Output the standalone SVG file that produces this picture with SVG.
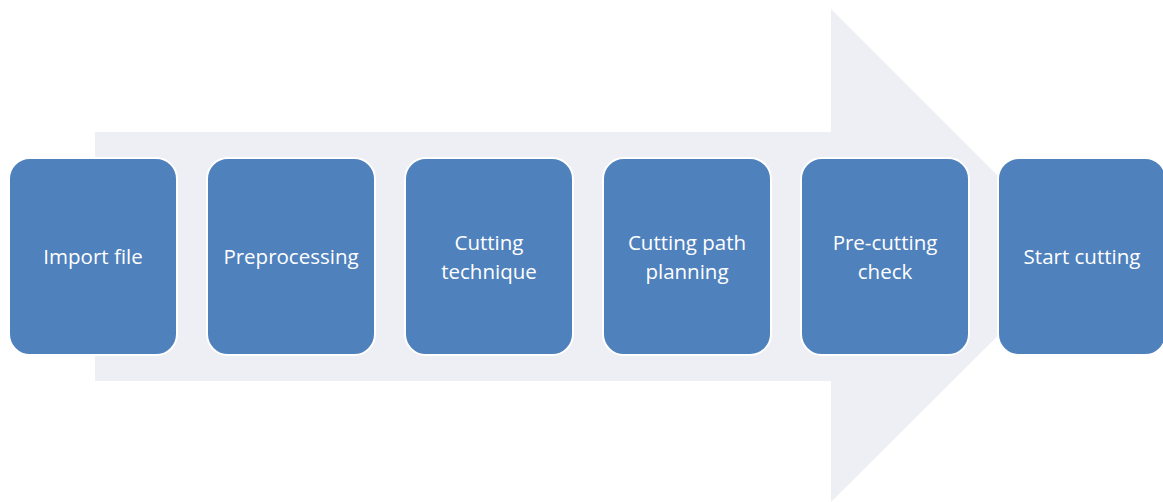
<svg xmlns="http://www.w3.org/2000/svg" width="1163" height="502" viewBox="0 0 1163 502">
<style>
.box{fill:#4F81BD;stroke:#FFFFFF;stroke-width:2}
.lbl{fill:#FFFFFF;font-family:"Open Sans","Liberation Sans",sans-serif;font-size:20.5px;text-anchor:middle}
</style>
<rect width="1163" height="502" fill="#FFFFFF"/>
<g id="arrow">
<polygon points="95,132 831,132 831,9 1078,256 831,502 831,381 95,381" fill="#EEEFF4"/>
</g>
<g id="connectors"></g>
<g id="n1"><rect class="box" x="9" y="158" width="168" height="197" rx="21"/><text class="lbl" x="93" y="264">Import file</text></g>
<g id="n2"><rect class="box" x="207" y="158" width="168" height="197" rx="21"/><text class="lbl" x="291" y="264">Preprocessing</text></g>
<g id="n3"><rect class="box" x="405" y="158" width="168" height="197" rx="21"/><text class="lbl" x="489" y="250">Cutting</text><text class="lbl" x="489" y="279">technique</text></g>
<g id="n4"><rect class="box" x="603" y="158" width="168" height="197" rx="21"/><text class="lbl" x="687" y="250">Cutting path</text><text class="lbl" x="687" y="279">planning</text></g>
<g id="n5"><rect class="box" x="801" y="158" width="168" height="197" rx="21"/><text class="lbl" x="885" y="250">Pre-cutting</text><text class="lbl" x="885" y="279">check</text></g>
<g id="n6"><rect class="box" x="998" y="158" width="168" height="197" rx="21"/><text class="lbl" x="1082" y="264">Start cutting</text></g>
</svg>
